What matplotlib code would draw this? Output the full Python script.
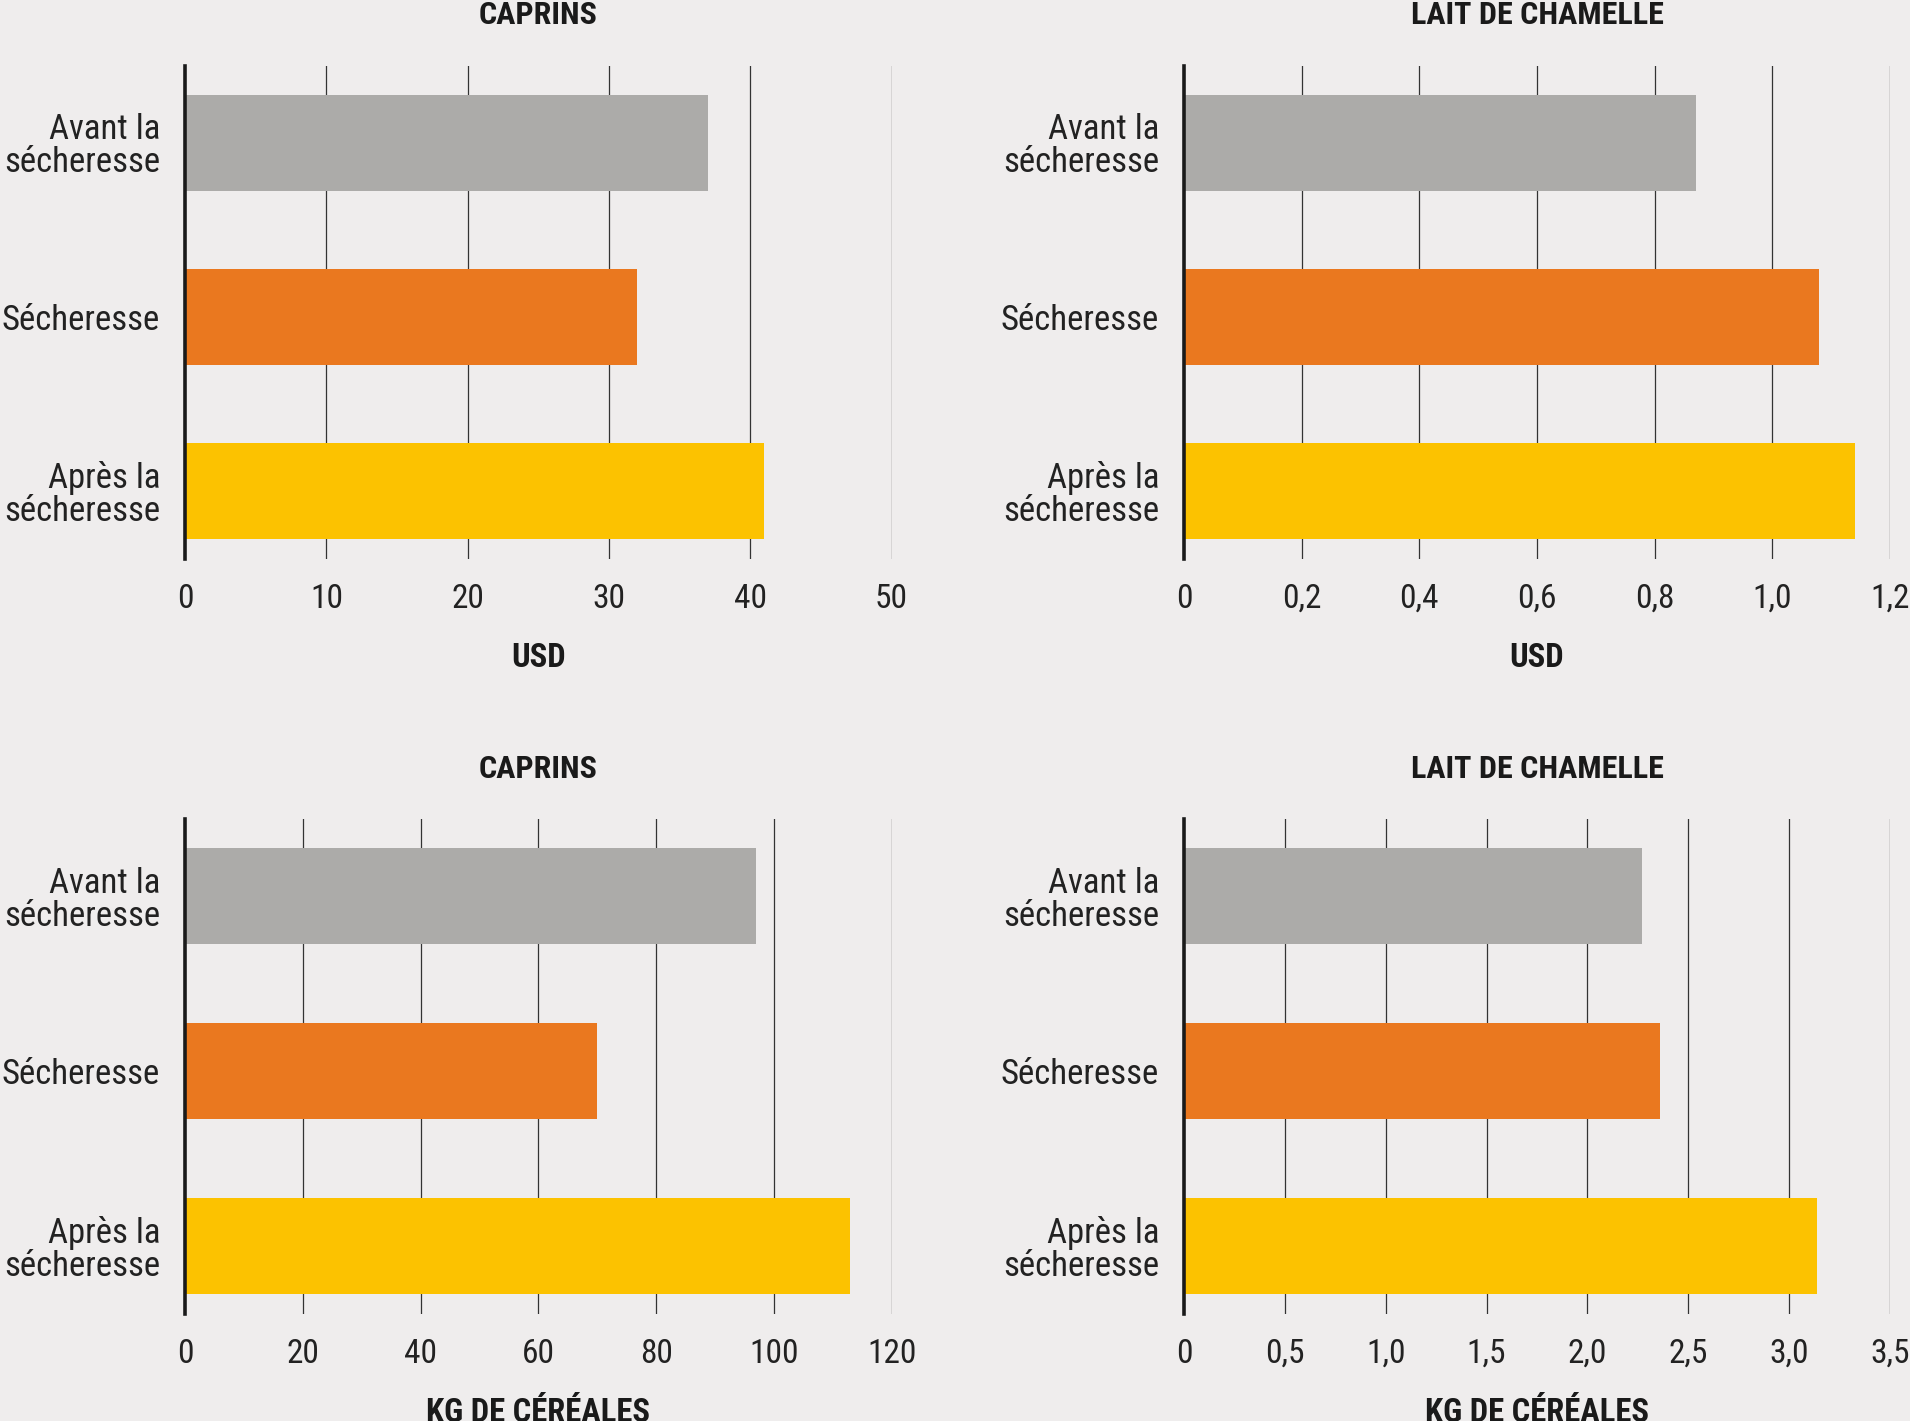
import matplotlib.pyplot as plt
from matplotlib import font_manager

categories = ["Avant la\nsécheresse", "Sécheresse", "Après la\nsécheresse"]
bar_colors = ["#acaba9", "#ea781f", "#fcc200"]

caprins_usd = [37, 32, 41]
chamelle_usd = [0.87, 1.08, 1.14]
caprins_kg = [97, 70, 113]
chamelle_kg = [2.27, 2.36, 3.14]

titles = ["CAPRINS", "LAIT DE CHAMELLE", "CAPRINS", "LAIT DE CHAMELLE"]
xlabels = ["USD", "USD", "KG DE CÉRÉALES", "KG DE CÉRÉALES"]
xticks = [
    [0, 10, 20, 30, 40, 50],
    [0, 0.2, 0.4, 0.6, 0.8, 1.0, 1.2],
    [0, 20, 40, 60, 80, 100, 120],
    [0, 0.5, 1.0, 1.5, 2.0, 2.5, 3.0, 3.5],
]
xtick_labels = [
    ["0", "10", "20", "30", "40", "50"],
    ["0", "0,2", "0,4", "0,6", "0,8", "1,0", "1,2"],
    ["0", "20", "40", "60", "80", "100", "120"],
    ["0", "0,5", "1,0", "1,5", "2,0", "2,5", "3,0", "3,5"],
]
series = [caprins_usd, chamelle_usd, caprins_kg, chamelle_kg]

bg = "#efeded"

# look for a narrow face, the reference uses a condensed font
fonts = font_manager.fontManager.ttflist
names = {f.name for f in fonts}
family = "DejaVu Sans"
stretch = "normal"
if "Roboto Condensed" in names:
    family = "Roboto Condensed"
elif "Liberation Sans Narrow" in names:
    family = "Liberation Sans Narrow"
elif any(f.name == "DejaVu Sans" and f.stretch == "condensed" for f in fonts):
    stretch = "condensed"
plt.rcParams['font.family'] = [family, 'DejaVu Sans']
plt.rcParams['font.stretch'] = stretch

fig = plt.figure(figsize=(19.1, 14.21), dpi=100, facecolor=bg)
renderer = fig.canvas.get_renderer()

# shrink labels until "sécheresse" fits left of the axis (~160 px)
label_size = 25
while label_size > 12:
    t = fig.text(0, 0, "sécheresse", fontsize=label_size)
    w = t.get_window_extent(renderer).width
    t.remove()
    if w <= 161:
        break
    label_size -= 0.5
tick_size = min(24, label_size + 1)

rects = [
    [0.0969, 0.6066, 0.3699, 0.3469],
    [0.6199, 0.6066, 0.3696, 0.3469],
    [0.0969, 0.0753, 0.3699, 0.3480],
    [0.6199, 0.0753, 0.3696, 0.3480],
]

for i in range(4):
    ax = fig.add_axes(rects[i])
    ax.set_facecolor(bg)
    ypos = list(range(len(categories)))
    ax.barh(ypos, series[i], height=0.55, color=bar_colors, zorder=2)
    ax.set_xlim(xticks[i][0], xticks[i][-1])
    ax.set_ylim(2.39, -0.44)
    ax.set_xticks(xticks[i])
    ax.set_xticklabels(xtick_labels[i], fontsize=tick_size, color="#222222")
    ax.set_yticks(ypos)
    ax.set_yticklabels(categories, fontsize=label_size, color="#222222",
                       linespacing=1.0)
    ax.tick_params(axis='both', length=0)
    ax.tick_params(axis='y', pad=18)
    ax.tick_params(axis='x', pad=17)
    for t in xticks[i][1:]:
        ax.axvline(t, color="#333333", linewidth=0.9, zorder=1)
    for s in ["top", "right", "bottom"]:
        ax.spines[s].set_visible(False)
    ax.spines["left"].set_linewidth(2.6)
    ax.spines["left"].set_color("#1a1a1a")
    ax.spines["left"].set_zorder(3)
    ax.set_title(titles[i], fontsize=23, fontweight="bold", color="#1a1a1a",
                 pad=30)
    ax.set_xlabel(xlabels[i], fontsize=23.5, fontweight="bold", color="#1a1a1a",
                  labelpad=20)

fig.savefig("out.png", dpi=100, facecolor=bg)
